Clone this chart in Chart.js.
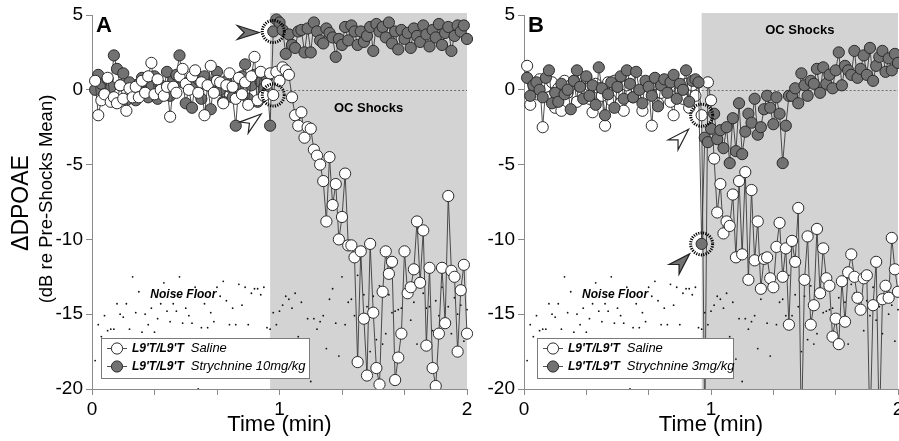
<!DOCTYPE html>
<html lang="en">
<head>
<meta charset="UTF-8">
<title>DPOAE during OC shocks</title>
<script src="https://cdn.jsdelivr.net/npm/chart.js@4"></script>
<style>
  body { margin: 0; background: #fff; width: 899px; height: 441px; overflow: hidden; position: relative; }
  canvas { position: absolute; top: 0; }
  #chartA { left: 0; }
  #chartB { left: 484px; }
</style>
</head>
<body>
<canvas id="chartA" width="484" height="441"></canvas>
<canvas id="chartB" width="415" height="441"></canvas>
<script>
const FONT = "'Liberation Sans', Arial, Helvetica, sans-serif";

// one sample per second, time in minutes
const shockStart = 0.95;
const shockEnd = 2;
const xTickValues = [0, 1/3, 2/3, 1, 4/3, 5/3, 2];
const xTickLabels = ['0', '', '', '1', '', '', '2'];
const yTickValues = [-20, -15, -10, -5, 0, 5];
const genotype = "L9'T/L9'T";
const treatmentsA = ['Saline', 'Strychnine 10mg/kg'];
const treatmentsB = ['Saline', 'Strychnine 3mg/kg'];
const noiseLabelAt = [0.487, -13.7];

// panel A
const salineA = [0.6, -1.7, -0.7, -0.3, 0.8, -0.8, -0.5, -0.9, 0.3, -0.6, -1.4, 0.1, -0.5, 0.2, -0.5, 0.6, -0.2, 0.9, 1.8, -0.3,
  0.7, 0.0, -0.4, 0.2, -1.8, 0.2, -0.2, 0.9, 1.4, 0.4, 0.0, 0.9, 1.3, -0.2, 0.5, -1.7, 0.3, 1.6, -0.2, 0.6,
  0.5, -0.9, 0.3, 1.1, 0.2, -0.6, 0.8, -0.3, 0.5, -1.0, 0.9, 2.2, -0.7, 1.2, -0.4, 0.4, 1.1,
  -0.35, 1.2, 0.6, 1.5, 1.3, 1.0, -0.5, -1.7, -2.4, -1.5, -3.2, -2.5, -2.6, -4.0, -4.4, -5.0, -6.1, -8.8, -4.5, -7.7,
  -6.3, -10.0, -8.5, -5.6, -10.4, -10.4, -11.2, -18.2, -10.8, -15.3, -19.1, -10.3, -14.9, -18.6, -19.7, -13.5, -10.8, -12.3, -11.5, -19.4,
  -17.9, -16.3, -10.8, -13.6, -13.2, -12.0, -8.8, -12.9, -9.4, -17.1, -11.9, -18.6, -19.8, -16.3, -11.9, -15.6, -7.1, -12.1, -12.5, -17.5,
  -13.4, -11.7, -16.3];
const strychA = [0.0, 1.0, 0.4, -0.3, 0.7, 0.2, 2.3, 1.4, 0.3, 1.1, -0.7, 0.5, 0.0, -0.7, 0.4, 0.8, 0.6, -0.5, 0.2, 0.9,
  -0.6, 0.3, 0.1, 1.2, -0.4, 0.6, 1.0, 2.3, 0.5, -0.9, 0.1, -1.2, 0.4, 0.7, -0.6, 0.9, 0.3, -1.3, 0.5, 1.2,
  0.0, -0.8, 0.6, 0.2, -0.5, -2.4, 0.4, 0.9, 1.7, -0.6, 0.3, 1.0, -0.8, 0.5, 0.1, 0.8, -2.4,
  3.9, 4.7, 4.5, 4.0, 2.4, 3.7, 3.0, 2.8, 3.9, 4.0, 2.5, 4.1, 2.5, 4.5, 3.9, 3.3, 3.1, 4.1, 3.8, 3.5,
  2.2, 3.4, 3.0, 4.2, 3.3, 4.3, 3.9, 3.0, 3.9, 3.2, 3.6, 4.2, 2.6, 4.4, 3.9, 4.2, 3.5, 4.5, 3.1, 3.9,
  2.7, 4.0, 3.4, 3.8, 2.8, 4.1, 3.6, 3.2, 4.3, 3.7, 2.9, 4.0, 3.5, 4.4, 3.0, 3.8, 4.2, 2.6, 3.6, 4.3,
  3.9, 4.3, 3.4];

// panel B
const salineB = [1.6, -1.0, 0.4, -0.3, 0.7, -2.5, 0.2, -0.5, 0.5, -1.2, 0.1, -1.4, 0.6, -0.2, 0.3, 0.6, -0.8, 0.2, -0.3, 0.8,
  -0.6, -1.5, 0.4, 0.1, -0.4, -2.4, 0.5, -0.7, 0.6, 0.2, -0.9, -1.4, 0.3, 0.7, -0.5, 0.1, 0.6, -1.4, -0.3, 0.2,
  -2.4, 0.4, -0.9, -0.2, 0.6, 0.3, -0.8, -1.7, 0.2, 0.0, -0.6, 0.4, -1.2, 0.3, -0.4, 0.5, -1.7,
  -23, 0.5, -0.7, -4.6, -8.2, -6.3, -9.6, -8.8, -9.1, -7.0, -11.2, -6.1, -11.0, -5.5, -12.7, -6.7, -11.4, -8.8, -13.3, -11.3,
  -11.2, -12.6, -13.2, -10.5, -8.9, -12.5, -10.6, -15.7, -10.1, -11.5, -7.9, -23, -12.7, -9.8, -15.7, -14.4, -9.3, -13.6, -10.6, -12.6,
  -13.1, -16.5, -15.3, -17.0, -12.8, -15.5, -12.2, -11.0, -12.5, -13.9, -14.7, -12.6, -12.4, -23, -14.4, -11.5, -23, -14.0, -13.1, -13.9,
  -9.9, -12.0, -13.5];
const strychB = [0.8, -0.4, 0.3, 0.5, 0.0, -0.5, 0.8, 1.3, -0.9, -0.2, -0.8, 0.4, -0.3, 0.0, -1.3, 0.6, 1.3, 0.2, -0.6, 0.9,
  -0.4, 0.3, -1.0, 1.5, 0.1, -1.7, -0.3, 0.5, -1.2, 0.2, 0.9, -0.6, 1.3, 0.4, -0.5, 1.2, 0.0, -0.9, 0.6, 0.2,
  -0.4, 0.8, -1.1, 0.3, 0.7, -0.2, 0.5, 1.0, -0.6, 0.4, 0.0, 1.3, -0.8, 0.6, 0.7, 0.5, -10.3,
  -3.2, -3.5, -2.6, -1.6, -3.3, -2.7, -3.9, -2.5, -4.9, -1.9, -4.1, -0.9, -4.3, -2.8, -1.6, -2.2, -0.6, -3.0, -2.5, -1.3,
  -0.4, -1.2, -2.3, -0.5, -1.6, -4.9, -2.4, -0.4, -0.4, 0.1, -0.9, 1.1, 0.3, -0.4, 0.6, 0.4, 1.4, -0.2, 1.5, 0.4,
  1.0, 0.1, 1.3, 2.5, 0.3, 1.6, 1.3, 1.0, 2.6, 0.8, 1.4, 2.3, 1.0, 2.8, 0.6, 1.6, 2.2, 2.6, 1.2, 2.1,
  1.3, 2.4, 1.8];

// noise floor (same recording shown in both panels)
const noiseFloor = [-18.1, -15.7, -16.5, -15.1, -16.1, -16.0, -16.0, -14.3, -15.0, -15.2, -14.3, -16.0, -12.5, -14.9, -13.5, -16.2, -15.0, -15.7, -14.6, -16.2,
  -15.3, -14.3, -12.9, -14.8, -15.5, -14.3, -14.8, -12.5, -15.6, -14.6, -15.1, -15.6, -13.2, -20.0, -15.9, -14.3, -15.9, -14.9, -15.5, -13.2,
  -13.8, -12.8, -14.1, -15.7, -14.6, -15.7, -13.0, -14.4, -13.2, -15.7, -13.6, -13.3, -13.3, -13.7, -13.2, -15.9, -16.0,
  -14.9, -15.7, -14.8, -14.4, -13.8, -14.0, -14.6, -13.6, -16.5, -14.2, -18.0, -15.3, -19.5, -15.3, -16.0, -15.5, -15.1, -17.3, -14.0, -13.3,
  -15.6, -17.8, -12.5, -15.7, -14.2, -14.0, -15.1, -12.4, -15.1, -13.7, -14.5, -17.5, -13.8, -16.7, -13.1, -17.0, -16.3, -13.7, -14.9, -14.8,
  -14.7, -14.6, -16.4, -13.9, -15.4, -14.2, -17.0, -13.0, -13.6, -14.6, -14.5, -16.1, -14.1, -15.1, -13.2, -15.4, -14.5, -16.3, -13.9, -15.0,
  -14.4, -16.8, -14.7];

const WHITE = '#ffffff';
const GRAY = '#727272';

function toPoints(values) {
    return values.map((v, i) => ({ x: (i + 1) / 60, y: v }));
}

function series(values, fill) {
    return {
        data: toPoints(values),
        showLine: true,
        borderColor: '#3a3a3a',
        borderWidth: 0.9,
        pointRadius: 5.6,
        pointBackgroundColor: fill,
        pointBorderColor: '#2b2b2b',
        pointBorderWidth: 1,
        clip: { left: 10, top: 12, right: 10, bottom: 0 }
    };
}

function noise() {
    return {
        data: toPoints(noiseFloor),
        showLine: false,
        pointRadius: 0.9,
        pointBackgroundColor: '#111',
        pointBorderWidth: 0,
        clip: { left: 10, top: 12, right: 10, bottom: 0 }
    };
}

const decor = {
    id: 'decor',
    beforeDraw(chart, args, o) {
        const { ctx, chartArea: ca, scales: { x, y } } = chart;
        const xs = x.getPixelForValue(shockStart);
        const xe = x.getPixelForValue(shockEnd);
        ctx.save();
        ctx.fillStyle = '#d3d3d3';
        ctx.fillRect(xs, ca.top - 2, xe - xs, ca.bottom - ca.top + 2);
        const y0 = Math.round(y.getPixelForValue(0)) + 0.5;
        ctx.strokeStyle = '#555';
        ctx.lineWidth = 0.8;
        ctx.setLineDash([2, 2]);
        ctx.beginPath();
        ctx.moveTo(xs, y0);
        ctx.lineTo(xe, y0);
        ctx.stroke();
        ctx.setLineDash([]);
        ctx.fillStyle = '#000';
        ctx.textAlign = 'center';
        ctx.textBaseline = 'middle';
        ctx.font = `bold 13px ${FONT}`;
        ctx.fillText('OC Shocks', (xs + xe) / 2, y.getPixelForValue(o.ocY));
        ctx.font = `italic bold 12px ${FONT}`;
        ctx.fillText('Noise Floor', x.getPixelForValue(noiseLabelAt[0]), y.getPixelForValue(noiseLabelAt[1]));
        ctx.restore();
    },
    afterDatasetsDraw(chart, args, o) {
        const { ctx, chartArea: ca } = chart;
        ctx.save();
        // dotted rings round the marked points
        o.rings.forEach(r => {
            const p = chart.getDatasetMeta(r.ds).data[r.idx];
            ctx.beginPath();
            ctx.setLineDash([1.2, 1.2]);
            ctx.lineWidth = 3;
            ctx.strokeStyle = '#000';
            ctx.arc(p.x, p.y, 11, 0, Math.PI * 2);
            ctx.stroke();
        });
        ctx.setLineDash([]);
        // arrowheads
        o.arrows.forEach(a => {
            const p = chart.getDatasetMeta(a.ds).data[a.idx];
            ctx.save();
            ctx.translate(p.x + a.dx, p.y + a.dy);
            ctx.rotate(a.angle * Math.PI / 180);
            ctx.beginPath();
            ctx.moveTo(0, 0);
            ctx.lineTo(-22, -7);
            ctx.lineTo(-15, 0);
            ctx.lineTo(-22, 7);
            ctx.closePath();
            ctx.fillStyle = a.fill;
            ctx.fill();
            ctx.lineWidth = 1.2;
            ctx.strokeStyle = '#222';
            ctx.stroke();
            ctx.restore();
        });
        // legend box
        const L = o.legend;
        ctx.fillStyle = '#fff';
        ctx.fillRect(L.x, L.y, L.w, L.h);
        ctx.strokeStyle = '#7a7a7a';
        ctx.lineWidth = 1;
        ctx.strokeRect(L.x + 0.5, L.y + 0.5, L.w, L.h);
        L.labels.forEach((label, k) => {
            const cy = L.y + 10.5 + k * 18;
            ctx.strokeStyle = '#3a3a3a';
            ctx.lineWidth = 0.9;
            ctx.beginPath();
            ctx.moveTo(L.x + 6, cy);
            ctx.lineTo(L.x + 26, cy);
            ctx.stroke();
            ctx.beginPath();
            ctx.arc(L.x + 16, cy, 5.6, 0, Math.PI * 2);
            ctx.fillStyle = L.fills[k];
            ctx.fill();
            ctx.strokeStyle = '#2b2b2b';
            ctx.lineWidth = 1;
            ctx.stroke();
            ctx.fillStyle = '#000';
            ctx.textAlign = 'left';
            ctx.textBaseline = 'middle';
            ctx.font = `italic bold 12px ${FONT}`;
            ctx.fillText(genotype, L.x + 31, cy);
            const w = ctx.measureText(genotype).width;
            ctx.font = `italic 13px ${FONT}`;
            ctx.fillText(label, L.x + 31 + w + 7, cy);
        });
        // panel letter
        ctx.fillStyle = '#000';
        ctx.textAlign = 'left';
        ctx.textBaseline = 'alphabetic';
        ctx.font = `bold 22px ${FONT}`;
        ctx.fillText(o.letter, ca.left + 4, 32);
        if (o.yTitle) {
            ctx.textAlign = 'center';
            ctx.textBaseline = 'middle';
            ctx.save();
            ctx.translate(22, 203);
            ctx.rotate(-Math.PI / 2);
            ctx.font = `23px ${FONT}`;
            ctx.fillText('\u0394DPOAE', 0, 0);
            ctx.restore();
            ctx.save();
            ctx.translate(47, 199);
            ctx.rotate(-Math.PI / 2);
            ctx.font = `18.5px ${FONT}`;
            ctx.fillText('(dB re Pre-Shocks Mean)', 0, 0);
            ctx.restore();
        }
        ctx.restore();
    }
};

function makeScales(yWidth) {
    const axisColor = '#8a8a8a';
    return {
        x: {
            type: 'linear',
            min: 0,
            max: 2,
            afterBuildTicks: s => { s.ticks = xTickValues.map(v => ({ value: v })); },
            afterFit: s => { s.height = 52; s.paddingLeft = 0; s.paddingRight = 0; },
            grid: { drawOnChartArea: false, drawTicks: true, tickLength: 6, color: axisColor },
            border: { color: axisColor, width: 1 },
            ticks: {
                autoSkip: false, maxRotation: 0, padding: 3, color: '#000',
                font: { size: 19, family: FONT },
                callback: (v, i) => xTickLabels[i]
            },
            title: {
                display: true, text: 'Time (min)', color: '#000',
                font: { size: 22, family: FONT }, padding: { top: 0, bottom: 3 }
            }
        },
        y: {
            type: 'linear',
            min: -20,
            max: 5,
            afterBuildTicks: s => { s.ticks = yTickValues.map(v => ({ value: v })); },
            afterFit: s => { s.width = yWidth; s.paddingTop = 0; s.paddingBottom = 0; },
            grid: { drawOnChartArea: false, drawTicks: true, tickLength: 6, color: axisColor },
            border: { color: axisColor, width: 1 },
            ticks: { padding: 3, color: '#000', font: { size: 19, family: FONT } }
        }
    };
}

function makeChart(id, datasets, yWidth, rightPad, panel) {
    return new Chart(document.getElementById(id), {
        type: 'scatter',
        data: { datasets },
        options: {
            responsive: false,
            animation: false,
            events: [],
            layout: { autoPadding: false, padding: { top: 15, right: rightPad, left: 0, bottom: 0 } },
            scales: makeScales(yWidth),
            plugins: { legend: { display: false }, tooltip: { enabled: false }, decor: panel }
        },
        plugins: [decor]
    });
}

// A: saline drawn on top
makeChart('chartA', [series(salineA, WHITE), series(strychA, GRAY), noise()], 92, 17, {
    letter: 'A',
    yTitle: true,
    ocY: -1.25,
    rings: [{ ds: 1, idx: 57 }, { ds: 0, idx: 57 }],
    arrows: [
        { ds: 1, idx: 57, dx: -14, dy: 1, angle: 0, fill: GRAY },
        { ds: 0, idx: 57, dx: -12, dy: 19, angle: -38, fill: WHITE }
    ],
    legend: { x: 101, y: 338, w: 208, h: 40, labels: treatmentsA, fills: [WHITE, GRAY] }
});

// B: strychnine drawn on top
makeChart('chartB', [series(strychB, GRAY), series(salineB, WHITE), noise()], 40, 1, {
    letter: 'B',
    yTitle: false,
    ocY: 4.0,
    rings: [{ ds: 1, idx: 56 }, { ds: 0, idx: 56 }],
    arrows: [
        { ds: 1, idx: 56, dx: -13, dy: 14, angle: -45, fill: WHITE },
        { ds: 0, idx: 56, dx: -12, dy: 10, angle: -45, fill: GRAY }
    ],
    legend: { x: 53, y: 338, w: 196, h: 40, labels: treatmentsB, fills: [WHITE, GRAY] }
});
</script>
</body>
</html>
